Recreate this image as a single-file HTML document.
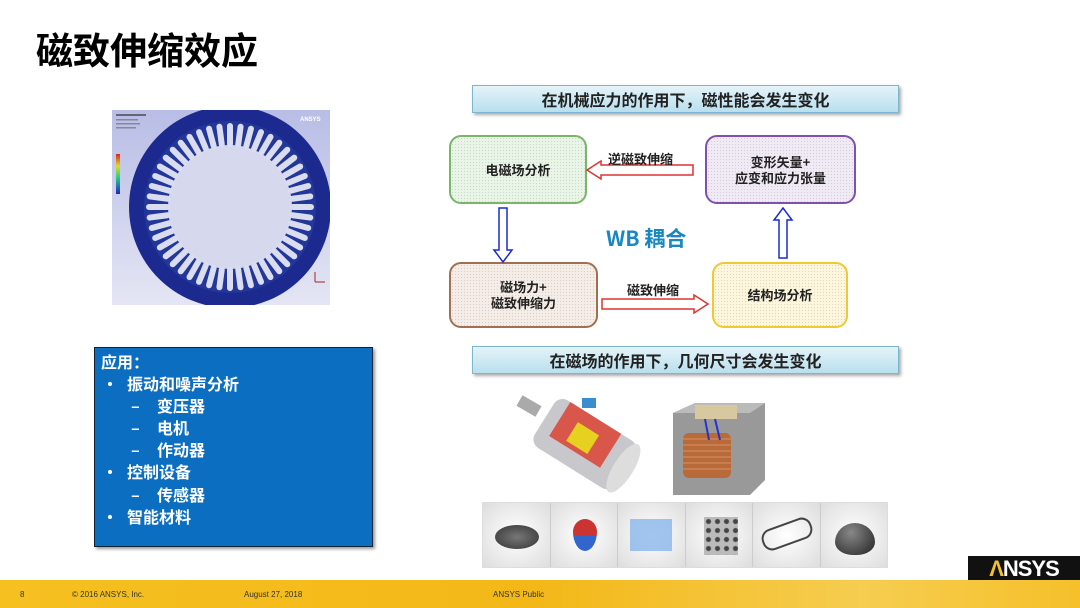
<!DOCTYPE html>
<html><head><meta charset="utf-8"><style>
*{margin:0;padding:0;box-sizing:border-box}
body{width:1080px;height:608px;overflow:hidden;background:#fff;position:relative;font-family:"Liberation Sans","Noto Sans CJK SC",sans-serif}
.a{position:absolute}
.cj{font-family:"Noto Sans CJK SC","WenQuanYi Zen Hei",sans-serif;font-weight:bold}
.banner{position:absolute;left:472px;width:427px;height:28px;border:1px solid #7fb6cf;background:linear-gradient(#e4f3f8,#b9dfee);box-shadow:2px 2px 3px #aaa;text-align:center;font-size:16px;line-height:26px;color:#222}
.box{position:absolute;border-radius:12px;border:2px solid;display:flex;align-items:center;justify-content:center;text-align:center;font-size:13px;line-height:16px;color:#222;background-image:radial-gradient(rgba(0,0,0,.12) 0.6px,transparent 0.8px);background-size:3px 3px}
.bl{font-size:16px;color:#fff;line-height:22px;position:absolute}
</style></head><body>
<div class="a cj" style="left:36px;top:26px;font-size:37px;line-height:44px;color:#000;letter-spacing:0px">磁致伸缩效应</div>

<div class="a" style="left:112px;top:110px;width:218px;height:195px;background:linear-gradient(#b8bde6,#e4e6f4);"></div>
<svg class="a" style="left:112px;top:110px" width="218" height="195" viewBox="0 0 218 195">
<circle cx="118" cy="97" r="101" fill="#1c2a90"/>
<circle cx="118" cy="97" r="86" fill="#23379a"/>
<circle cx="118" cy="97" r="62" fill="#d6d8ee"/>
<g fill="#dadcf0" transform="translate(118,97)">
<g id="s"><rect x="-3" y="-84" width="6" height="24" rx="3"/></g>
<use href="#s" transform="rotate(7.5)"/><use href="#s" transform="rotate(15)"/><use href="#s" transform="rotate(22.5)"/><use href="#s" transform="rotate(30)"/><use href="#s" transform="rotate(37.5)"/><use href="#s" transform="rotate(45)"/><use href="#s" transform="rotate(52.5)"/><use href="#s" transform="rotate(60)"/><use href="#s" transform="rotate(67.5)"/><use href="#s" transform="rotate(75)"/><use href="#s" transform="rotate(82.5)"/><use href="#s" transform="rotate(90)"/><use href="#s" transform="rotate(97.5)"/><use href="#s" transform="rotate(105)"/><use href="#s" transform="rotate(112.5)"/><use href="#s" transform="rotate(120)"/><use href="#s" transform="rotate(127.5)"/><use href="#s" transform="rotate(135)"/><use href="#s" transform="rotate(142.5)"/><use href="#s" transform="rotate(150)"/><use href="#s" transform="rotate(157.5)"/><use href="#s" transform="rotate(165)"/><use href="#s" transform="rotate(172.5)"/><use href="#s" transform="rotate(180)"/><use href="#s" transform="rotate(187.5)"/><use href="#s" transform="rotate(195)"/><use href="#s" transform="rotate(202.5)"/><use href="#s" transform="rotate(210)"/><use href="#s" transform="rotate(217.5)"/><use href="#s" transform="rotate(225)"/><use href="#s" transform="rotate(232.5)"/><use href="#s" transform="rotate(240)"/><use href="#s" transform="rotate(247.5)"/><use href="#s" transform="rotate(255)"/><use href="#s" transform="rotate(262.5)"/><use href="#s" transform="rotate(270)"/><use href="#s" transform="rotate(277.5)"/><use href="#s" transform="rotate(285)"/><use href="#s" transform="rotate(292.5)"/><use href="#s" transform="rotate(300)"/><use href="#s" transform="rotate(307.5)"/><use href="#s" transform="rotate(315)"/><use href="#s" transform="rotate(322.5)"/><use href="#s" transform="rotate(330)"/><use href="#s" transform="rotate(337.5)"/><use href="#s" transform="rotate(345)"/><use href="#s" transform="rotate(352.5)"/>
</g>
<rect x="4" y="44" width="4" height="40" fill="url(#lg)"/>
<defs><linearGradient id="lg" x1="0" y1="0" x2="0" y2="1"><stop offset="0" stop-color="#d22"/><stop offset=".3" stop-color="#dd2"/><stop offset=".6" stop-color="#2c8"/><stop offset="1" stop-color="#22c"/></linearGradient></defs>
<rect x="4" y="4" width="30" height="2" fill="#667"/><rect x="4" y="9" width="22" height="1.5" fill="#889"/><rect x="4" y="13" width="24" height="1.5" fill="#889"/><rect x="4" y="17" width="20" height="1.5" fill="#889"/>
<text x="188" y="11" font-size="6" fill="#fff" font-family="Liberation Sans" font-weight="bold">ANSYS</text>
<path d="M203 172v-10M203 172h10" stroke="#a22" stroke-width="1"/>
</svg>

<div class="a" style="left:94px;top:347px;width:279px;height:200px;background:#0b6ec0;border:1px solid #123;box-shadow:2px 2px 3px #999"></div>
<div class="bl cj" style="left:101px;top:350px">应用：</div>
<div class="bl cj" style="left:102px;top:372px">•</div><div class="bl cj" style="left:127px;top:372px">振动和噪声分析</div>
<div class="bl cj" style="left:131px;top:394px">–</div><div class="bl cj" style="left:157px;top:394px">变压器</div>
<div class="bl cj" style="left:131px;top:416px">–</div><div class="bl cj" style="left:157px;top:416px">电机</div>
<div class="bl cj" style="left:131px;top:438px">–</div><div class="bl cj" style="left:157px;top:438px">作动器</div>
<div class="bl cj" style="left:102px;top:460px">•</div><div class="bl cj" style="left:127px;top:460px">控制设备</div>
<div class="bl cj" style="left:131px;top:483px">–</div><div class="bl cj" style="left:157px;top:483px">传感器</div>
<div class="bl cj" style="left:102px;top:505px">•</div><div class="bl cj" style="left:127px;top:505px">智能材料</div>

<div class="banner cj" style="top:85px">在机械应力的作用下，磁性能会发生变化</div>
<div class="banner cj" style="top:346px">在磁场的作用下，几何尺寸会发生变化</div>

<div class="box cj" style="left:449px;top:135px;width:138px;height:69px;border-color:#79b56b;background-color:#e9f5e6">电磁场分析</div>
<div class="box cj" style="left:705px;top:135px;width:151px;height:69px;border-color:#8050b0;background-color:#f0eaf5">变形矢量+<br>应变和应力张量</div>
<div class="box cj" style="left:449px;top:262px;width:149px;height:66px;border-color:#a07050;background-color:#f5ede6">磁场力+<br>磁致伸缩力</div>
<div class="box cj" style="left:712px;top:262px;width:136px;height:66px;border-color:#f0c830;background-color:#fdf6dc">结构场分析</div>

<svg class="a" style="left:0;top:0" width="1080" height="608">
<path d="M693 165H601V161L587 170L601 179V175H693Z" fill="#fff" stroke="#d33" stroke-width="1.5"/>
<path d="M602 299H694V295L708 304L694 313V309H602Z" fill="#fff" stroke="#d33" stroke-width="1.5"/>
<path d="M499 208V250H494L503 262L512 250H507V208Z" fill="#fff" stroke="#1a2cd0" stroke-width="1.5"/>
<path d="M779 258V220H774L783 208L792 220H787V258Z" fill="#fff" stroke="#1a2cd0" stroke-width="1.5"/>
</svg>
<div class="a cj" style="left:608px;top:149px;font-size:13px;color:#222">逆磁致伸缩</div>
<div class="a cj" style="left:627px;top:280px;font-size:13px;color:#222">磁致伸缩</div>
<div class="a cj" style="left:606px;top:223px;font-size:21px;color:#1a88c0">WB 耦合</div>

<svg class="a" style="left:510px;top:392px" width="140" height="110">
<rect x="8" y="8" width="22" height="12" fill="#aaa" transform="rotate(30 19 14)"/>
<g transform="rotate(32 70 55)">
<rect x="25" y="22" width="95" height="56" rx="10" fill="#c8c8cc"/>
<rect x="38" y="22" width="60" height="40" fill="#d9564a"/>
<rect x="55" y="35" width="25" height="22" fill="#e6d020"/>
<ellipse cx="118" cy="50" rx="10" ry="28" fill="#ddd"/>
</g>
<rect x="72" y="6" width="14" height="10" fill="#3a8ed0"/>
</svg>
<svg class="a" style="left:665px;top:395px" width="110" height="105">
<path d="M8 18L30 8H100V85L85 100H8Z" fill="#999"/>
<path d="M8 18L30 8H100L85 18Z" fill="#bbb"/>
<rect x="18" y="38" width="48" height="45" rx="6" fill="#b86a3a"/>
<g stroke="#d69060" stroke-width="1"><path d="M18 44h48M18 50h48M18 56h48M18 62h48M18 68h48M18 74h48"/></g>
<rect x="30" y="10" width="42" height="14" fill="#d8c8a0"/>
<path d="M40 24L44 45M50 24L55 45" stroke="#23c" stroke-width="2" fill="none"/>
</svg>
<div class="a" style="left:482px;top:502px;width:406px;height:66px;display:flex;background:#eee;border:1px solid #ddd">
<div style="flex:1;border-right:1px solid #ccc;background:radial-gradient(#fff,#ddd);position:relative"><div style="position:absolute;left:12px;top:22px;width:44px;height:24px;border-radius:50%;background:radial-gradient(#777,#333)"></div></div>
<div style="flex:1;border-right:1px solid #ccc;background:radial-gradient(#fff,#ddd);position:relative"><div style="position:absolute;left:22px;top:16px;width:24px;height:32px;border-radius:50% 50% 50% 50%/40% 40% 60% 60%;background:linear-gradient(#c33 50%,#36c 50%)"></div></div>
<div style="flex:1;border-right:1px solid #ccc;background:radial-gradient(#fff,#ddd);position:relative"><div style="position:absolute;left:12px;top:16px;width:42px;height:32px;background:#8ab6ea;opacity:.8"></div></div>
<div style="flex:1;border-right:1px solid #ccc;background:radial-gradient(#fff,#ddd);position:relative"><div style="position:absolute;left:18px;top:14px;width:34px;height:38px;background:radial-gradient(#444 2px,#bbb 3px);background-size:9px 9px"></div></div>
<div style="flex:1;border-right:1px solid #ccc;background:radial-gradient(#fff,#ddd);position:relative"><div style="position:absolute;left:8px;top:20px;width:52px;height:22px;border:2px solid #444;border-radius:10px;transform:rotate(-20deg)"></div></div>
<div style="flex:1;background:radial-gradient(#fff,#ddd);position:relative"><div style="position:absolute;left:14px;top:20px;width:40px;height:32px;border-radius:50% 50% 45% 45%/60% 60% 40% 40%;background:radial-gradient(circle at 40% 30%,#888,#222)"></div></div>
</div>

<div class="a" style="left:968px;top:556px;width:112px;height:25px;background:#111;color:#fff;font-family:'Liberation Sans';font-weight:bold;font-size:22px;line-height:25px;text-align:center;letter-spacing:-1px"><span style="color:#f0c030">Λ</span>NSYS</div>
<div class="a" style="left:0;top:580px;width:1080px;height:28px;background:linear-gradient(90deg,#f5c020,#f3b818 50%,#f6cd50 80%,#f5c02a)"></div>
<div class="a" style="left:20px;top:590px;font-size:8px;color:#333;font-family:'Liberation Sans'">8</div>
<div class="a" style="left:72px;top:590px;font-size:8px;color:#333;font-family:'Liberation Sans'">© 2016 ANSYS, Inc.</div>
<div class="a" style="left:244px;top:590px;font-size:8px;color:#333;font-family:'Liberation Sans'">August 27, 2018</div>
<div class="a" style="left:493px;top:590px;font-size:8px;color:#333;font-family:'Liberation Sans'">ANSYS Public</div>
</body></html>
